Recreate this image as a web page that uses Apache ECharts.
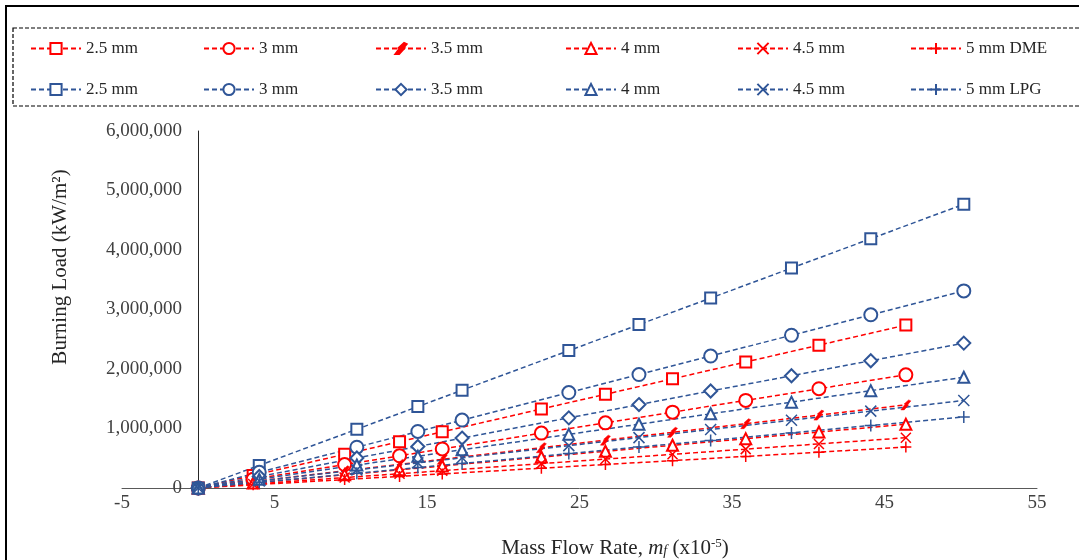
<!DOCTYPE html>
<html>
<head>
    <meta charset="utf-8">
    <title>Burning Load vs Mass Flow Rate</title>
    <script src="https://cdn.jsdelivr.net/npm/echarts@6/dist/echarts.min.js"></script>
    <style>
        html, body { margin: 0; padding: 0; background: #fff; }
        #chart { width: 1079px; height: 560px; }
    </style>
</head>
<body>
    <div id="chart"></div>
    <script>
        // mass flow rate (x10^-5) for each fuel
        const dmeFlow = [0, 3.6, 9.6, 13.2, 16.0, 22.5, 26.7, 31.1, 35.9, 40.7, 46.4];
        const lpgFlow = [0, 4.0, 10.4, 14.4, 17.3, 24.3, 28.9, 33.6, 38.9, 44.1, 50.2];

        // burning load (kW/m2), DME (red)
        const dme25 = [0, 212000, 566000, 779000, 944000, 1328000, 1575000, 1835000, 2118000, 2401000, 2738000];
        const dme30 = [0, 148000, 394000, 541000, 656000, 923000, 1095000, 1275000, 1472000, 1669000, 1902000];
        const dme35 = [0, 108000, 289000, 397000, 482000, 677000, 804000, 936000, 1081000, 1225000, 1397000];
        const dme40 = [0, 83000, 222000, 305000, 370000, 520000, 617000, 718000, 829000, 940000, 1072000];
        const dme45 = [0, 66000, 175000, 240000, 291000, 410000, 486000, 566000, 653000, 741000, 845000];
        const dme50 = [0, 53000, 142000, 195000, 237000, 333000, 395000, 460000, 531000, 602000, 687000];

        // burning load (kW/m2), LPG (blue)
        const lpg25 = [0, 380000, 988000, 1368000, 1644000, 2309000, 2746000, 3192000, 3696000, 4190000, 4769000];
        const lpg30 = [0, 264000, 686000, 950000, 1142000, 1604000, 1907000, 2218000, 2567000, 2911000, 3313000];
        const lpg35 = [0, 194000, 504000, 698000, 839000, 1179000, 1402000, 1630000, 1887000, 2139000, 2435000];
        const lpg40 = [0, 148000, 386000, 534000, 642000, 902000, 1072000, 1247000, 1443000, 1636000, 1862000];
        const lpg45 = [0, 117000, 305000, 422000, 507000, 712000, 847000, 984000, 1140000, 1292000, 1471000];
        const lpg50 = [0, 95000, 248000, 343000, 412000, 578000, 688000, 800000, 926000, 1050000, 1195000];

        const dmeLabels = ['2.5 mm', '3 mm', '3.5 mm', '4 mm', '4.5 mm', '5 mm DME'];
        const lpgLabels = ['2.5 mm', '3 mm', '3.5 mm', '4 mm', '4.5 mm', '5 mm LPG'];
        const xTicks = [-5, 55, 10];
        const yTicks = [0, 6000000, 1000000];

        const RED = '#FF0000';
        const BLUE = '#2F5597';
        const xPath = 'path://M0,0L10,10M10,0L0,10';
        const plusPath = 'path://M5,0L5,10M0,5L10,5';
        const boltPath = 'path://M1,10L5,4L4,4L8,0L10,1L7,5L8,5L4,10Z';

        const dmeSym = [
            { s: 'emptyRect', size: 11, bw: 1.5 },
            { s: 'emptyCircle', size: 13, bw: 1.5 },
            { s: boltPath, size: 10, bw: 0.5 },
            { s: 'emptyTriangle', size: 11, bw: 2.5 },
            { s: xPath, size: 10, bw: 1.5 },
            { s: plusPath, size: 11, bw: 1.5 }
        ];
        const lpgSym = [
            { s: 'emptyRect', size: 11, bw: 1.5 },
            { s: 'emptyCircle', size: 13, bw: 1.5 },
            { s: 'emptyDiamond', size: 13, bw: 1.5 },
            { s: 'emptyTriangle', size: 11, bw: 1.5 },
            { s: xPath, size: 11, bw: 1.5 },
            { s: plusPath, size: 12, bw: 1.5 }
        ];

        function pairs(xs, ys) {
            return xs.map((x, i) => [x, ys[i]]);
        }

        function makeSeries(name, xs, ys, color, sym) {
            return {
                name: name,
                type: 'line',
                data: pairs(xs, ys),
                symbol: sym.s,
                symbolSize: sym.size,
                showAllSymbol: true,
                lineStyle: { color: color, width: 1.5, type: [5, 3] },
                itemStyle: { color: color, borderColor: color, borderWidth: sym.bw },
                emphasis: { disabled: true }
            };
        }

        const dmeData = [dme25, dme30, dme35, dme40, dme45, dme50];
        const lpgData = [lpg25, lpg30, lpg35, lpg40, lpg45, lpg50];
        let series = [];
        dmeData.forEach((d, i) => series.push(makeSeries('DME ' + dmeLabels[i], dmeFlow, d, RED, dmeSym[i])));
        lpgData.forEach((d, i) => series.push(makeSeries('LPG ' + lpgLabels[i], lpgFlow, d, BLUE, lpgSym[i])));

        // one legend per entry, 6 columns x 2 rows
        const colX = [30, 203, 375, 565, 737, 910];
        const rowY = [40, 81];
        let legends = [];
        function addLegend(name, label, left, top) {
            legends.push({
                data: [name],
                left: left,
                top: top,
                padding: 0,
                itemWidth: 50,
                itemHeight: 14,
                selectedMode: false,
                formatter: () => label,
                textStyle: { fontFamily: 'Liberation Serif', fontSize: 17, color: '#262626' }
            });
        }
        dmeLabels.forEach((l, i) => addLegend('DME ' + l, l, colX[i], rowY[0]));
        lpgLabels.forEach((l, i) => addLegend('LPG ' + l, l, colX[i], rowY[1]));

        let chart = echarts.init(document.getElementById('chart'));
        chart.setOption({
            animation: false,
            backgroundColor: '#fff',
            legend: legends,
            grid: { left: 122, right: 42, top: 131, bottom: 72 },
            xAxis: {
                type: 'value',
                min: xTicks[0],
                max: xTicks[1],
                interval: xTicks[2],
                splitLine: { show: false },
                axisTick: { show: false },
                axisLine: { lineStyle: { color: '#595959', width: 1 } },
                axisLabel: { margin: 6, fontFamily: 'Liberation Serif', fontSize: 19, color: '#404040' }
            },
            yAxis: {
                type: 'value',
                min: yTicks[0],
                max: yTicks[1],
                interval: yTicks[2],
                splitLine: { show: false },
                axisTick: { show: false },
                axisLine: { show: true, lineStyle: { color: '#262626', width: 1 } },
                axisLabel: {
                    margin: -60,
                    fontFamily: 'Liberation Serif',
                    fontSize: 19,
                    color: '#404040',
                    formatter: v => v.toLocaleString('en-US')
                }
            },
            graphic: [
                {
                    type: 'rect',
                    shape: { x: 6, y: 6, width: 1200, height: 700 },
                    style: { fill: 'none', stroke: '#000', lineWidth: 2 },
                    silent: true
                },
                {
                    type: 'rect',
                    shape: { x: 13, y: 28, width: 1100, height: 78 },
                    style: { fill: 'none', stroke: '#000', lineWidth: 1.2, lineDash: [4, 2] },
                    silent: true
                },
                {
                    type: 'text',
                    x: 615,
                    y: 548,
                    style: {
                        text: '{a|Mass Flow Rate, }{i|m}{s|f}{a| (x10}{p|-5}{a|)}',
                        align: 'center',
                        verticalAlign: 'middle',
                        fill: '#262626',
                        rich: {
                            a: { fontFamily: 'Liberation Serif', fontSize: 21, fill: '#262626' },
                            i: { fontFamily: 'Liberation Serif', fontSize: 21, fontStyle: 'italic', fill: '#262626' },
                            s: { fontFamily: 'Liberation Serif', fontSize: 14, fontStyle: 'italic', fill: '#262626', verticalAlign: 'bottom', padding: [7, 0, 0, 0] },
                            p: { fontFamily: 'Liberation Serif', fontSize: 13, fill: '#262626', verticalAlign: 'top', padding: [0, 0, 7, 0] }
                        }
                    }
                },
                {
                    type: 'text',
                    x: 60,
                    y: 267,
                    rotation: Math.PI / 2,
                    style: {
                        text: 'Burning Load (kW/m²)',
                        align: 'center',
                        verticalAlign: 'middle',
                        fontFamily: 'Liberation Serif',
                        fontSize: 21,
                        fill: '#262626'
                    }
                }
            ],
            series: series
        });
    </script>
</body>
</html>
